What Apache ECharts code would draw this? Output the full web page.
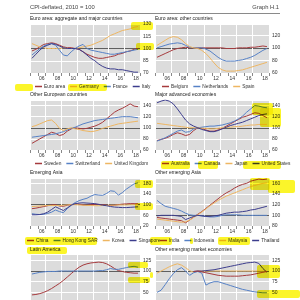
<!DOCTYPE html>
<html><head><meta charset="utf-8">
<script src="https://cdn.jsdelivr.net/npm/echarts@6/dist/echarts.min.js"></script>
<style>html,body{margin:0;padding:0;background:#fff}#c{width:300px;height:300px}</style>
</head><body><div id="c"></div>
<script>
// x positions (years) of the observations
const years = [2005.25, 2005.75, 2006.25, 2006.75, 2007.25, 2007.75, 2008.25, 2008.75, 2009.25, 2009.75,
  2010.25, 2010.75, 2011.25, 2011.75, 2012.25, 2012.75, 2013.25, 2013.75, 2014.25, 2014.75,
  2015.25, 2015.75, 2016.25, 2016.75, 2017.25, 2017.75, 2018.25, 2018.75];
const xLabelYears = [2006, 2008, 2010, 2012, 2014, 2016, 2018];

// Euro area: aggregate and major countries
const euroArea = [97, 99, 102, 105, 106, 107, 106, 104, 102, 101, 101, 100, 99, 96, 93, 91, 89, 88, 88, 89, 90, 91, 93, 94, 96, 97, 99, 100];
const germany = [106, 104, 102, 101, 100, 100, 100, 100, 101, 100, 100, 100, 101, 102, 103, 104, 106, 108, 110, 113, 116, 118, 120, 122, 123, 124, 126, 127];
const france = [92, 96, 100, 103, 105, 106, 104, 98, 92, 91, 96, 100, 103, 105, 100, 98, 97, 96, 95, 94, 93, 93, 94, 95, 96, 97, 98, 99];
const italy = [88, 93, 98, 102, 104, 106, 105, 103, 101, 100, 100, 100, 99, 96, 92, 88, 85, 81, 78, 76, 75, 75, 74, 74, 73, 72, 71, 71];
// Euro area: other countries
const belgium = [85, 88, 91, 94, 97, 99, 100, 101, 100, 100, 100, 100, 100, 100, 100, 100, 100, 99, 99, 99, 100, 100, 100, 101, 101, 102, 103, 102];
const netherlands = [100, 102, 104, 106, 107, 108, 107, 104, 101, 100, 100, 100, 98, 95, 90, 85, 81, 79, 79, 79, 80, 81, 83, 85, 88, 92, 96, 99];
const spain = [104, 108, 112, 116, 118, 117, 113, 107, 102, 100, 99, 96, 91, 84, 76, 69, 65, 63, 63, 63, 64, 65, 67, 69, 71, 73, 75, 77];
// Other European countries
const sweden = [72, 76, 80, 84, 88, 92, 90, 86, 88, 94, 98, 100, 99, 98, 99, 101, 103, 106, 110, 116, 122, 128, 132, 135, 139, 143, 139, 138];
const switzerland = [83, 84, 85, 86, 87, 88, 89, 91, 93, 96, 99, 101, 104, 107, 109, 111, 113, 114, 115, 116, 117, 118, 119, 120, 120, 120, 119, 118];
const unitedKingdom = [102, 104, 107, 110, 113, 114, 108, 99, 95, 98, 100, 98, 97, 95, 94, 93, 94, 96, 99, 101, 103, 105, 107, 108, 109, 110, 111, 112];
// Major advanced economies
const australia = [77, 79, 81, 84, 88, 91, 89, 86, 88, 95, 100, 99, 96, 94, 94, 96, 99, 103, 107, 111, 115, 119, 121, 124, 127, 126, 122, 118];
const canada = [76, 79, 82, 86, 90, 94, 96, 92, 93, 98, 100, 101, 102, 103, 103, 104, 105, 107, 109, 112, 116, 121, 128, 134, 140, 139, 137, 136];
const japan = [108, 107, 106, 105, 104, 103, 102, 101, 100, 100, 100, 99, 99, 98, 98, 99, 100, 101, 101, 102, 102, 103, 104, 105, 105, 106, 106, 106];
const unitedStates = [145, 148, 150, 148, 143, 134, 124, 114, 107, 103, 100, 97, 95, 93, 93, 95, 98, 101, 104, 106, 108, 110, 113, 116, 119, 122, 124, 125];
// Emerging Asia
const china = [85, 87, 90, 93, 96, 99, 100, 95, 94, 98, 100, 103, 102, 99, 98, 100, 101, 101, 100, 98, 97, 98, 100, 102, 103, 104, 104, 103];
const hongKong = [66, 64, 63, 64, 67, 72, 80, 74, 70, 85, 98, 108, 115, 120, 124, 132, 138, 136, 135, 142, 152, 150, 136, 145, 158, 168, 178, 182];
const korea = [93, 94, 95, 96, 97, 97, 97, 97, 98, 99, 100, 100, 99, 98, 97, 97, 96, 96, 97, 97, 98, 98, 99, 99, 99, 100, 100, 100];
const singapore = [62, 62, 63, 66, 72, 82, 92, 85, 78, 88, 98, 104, 106, 107, 106, 105, 104, 101, 98, 96, 93, 91, 90, 89, 89, 90, 91, 92];
// Other emerging Asia
const india = [96, 95, 94, 93, 92, 91, 90, 86, 91, 97, 102, 107, 113, 119, 125, 131, 137, 142, 146, 151, 155, 158, 160, 164, 166, 168, 167, 168];
const indonesia = [128, 122, 117, 115, 113, 111, 108, 104, 101, 100, 100, 99, 98, 97, 97, 98, 100, 101, 101, 101, 101, 100, 100, 100, 100, 100, 100, 100];
const malaysia = [93, 92, 91, 90, 89, 88, 87, 88, 91, 96, 101, 106, 112, 118, 123, 128, 132, 136, 139, 142, 145, 148, 151, 154, 156, 158, 160, 161];
const thailand = [99, 100, 100, 100, 100, 99, 98, 92, 95, 98, 100, 99, 98, 98, 99, 100, 102, 104, 105, 106, 106, 107, 108, 110, 111, 113, 115, 117];
// Latin America (legend below the visible area)
const latAm1 = [44, 45, 47, 50, 54, 59, 65, 71, 78, 86, 94, 102, 109, 114, 117, 119, 120, 121, 120, 117, 112, 106, 101, 99, 97, 96, 95, 95];
const latAm2 = [93, 95, 97, 98, 99, 99, 99, 100, 100, 100, 100, 100, 100, 100, 100, 100, 100, 101, 101, 103, 106, 104, 104, 106, 108, 110, 111, 109];
// Other emerging market economies (legend below the visible area)
const eme1 = [95, 100, 105, 110, 114, 117, 114, 108, 101, 97, 100, 100, 100, 100, 100, 100, 100, 100, 100, 100, 100, 100, 100, 100, 100, 100, 100, 100];
const eme2 = [50, 55, 68, 82, 94, 103, 108, 100, 90, 96, 99, 95, 67, 72, 75, 75, 72, 69, 66, 63, 60, 57, 55, 53, 51, 50, 49, 49];
const eme3 = [null, null, null, null, null, null, null, null, null, 99, 100, 100, 101, 102, 103, 105, 107, 109, 111, 113, 115, 117, 119, 120, 121, 118, 106, 97];
const eme4 = [null, null, null, null, null, null, null, null, null, 99, 100, 98, 96, 94, 92, 90, 89, 88, 88, 88, 88, 89, 90, 91, 93, 95, 97, 99];

const COLORS = { red: '#a63a3d', blue: '#5681c6', tan: '#eeb662', navy: '#3c3d8d' };
const FONT = 'Liberation Sans';
const BASE = 100;

const rows = [{ top: 24, h: 49, t: 19, lg: 84 }, { top: 100, h: 50, t: 95, lg: 161 }, { top: 178, h: 48, t: 173, lg: 238 }, { top: 254, h: 49, t: 250, lg: null }];
const cols = [{ left: 30, w: 110 }, { left: 155, w: 114 }];

const panels = [
  { title: 'Euro area: aggregate and major countries', r: 0, c: 0, y: [70, 130, 15], lgLeft: 35, legend: true,
    s: [['Euro area', euroArea, 'red'], ['Germany', germany, 'tan'], ['France', france, 'blue'], ['Italy', italy, 'navy']] },
  { title: 'Euro area: other countries', r: 0, c: 1, y: [60, 138, 20], lgLeft: 162, legend: true,
    s: [['Belgium', belgium, 'red'], ['Netherlands', netherlands, 'blue'], ['Spain', spain, 'tan']] },
  { title: 'Other European countries', r: 1, c: 0, y: [60, 150, 20], lgLeft: 35, legend: true,
    s: [['Sweden', sweden, 'red'], ['Switzerland', switzerland, 'blue'], ['United Kingdom', unitedKingdom, 'tan']] },
  { title: 'Major advanced economies', r: 1, c: 1, y: [60, 150, 20], lgLeft: 162, legend: true,
    s: [['Australia', australia, 'red'], ['Canada', canada, 'blue'], ['Japan', japan, 'tan'], ['United States', unitedStates, 'navy']] },
  { title: 'Emerging Asia', r: 2, c: 0, y: [20, 200, 40], lgLeft: 27, legend: true,
    s: [['China', china, 'red'], ['Hong Kong SAR', hongKong, 'blue'], ['Korea', korea, 'tan'], ['Singapore', singapore, 'navy']] },
  { title: 'Other emerging Asia', r: 2, c: 1, y: [80, 170, 20], lgLeft: 160, legend: true,
    s: [['India', india, 'red'], ['Indonesia', indonesia, 'blue'], ['Malaysia', malaysia, 'tan'], ['Thailand', thailand, 'navy']] },
  { title: 'Latin America', r: 3, c: 0, y: [25, 140, 25], legend: false,
    s: [['Latin America 1', latAm1, 'red'], ['Latin America 2', latAm2, 'blue']] },
  { title: 'Other emerging market economies', r: 3, c: 1, y: [25, 140, 25], legend: false,
    s: [['Other EME 1', eme1, 'tan'], ['Other EME 2', eme2, 'blue'], ['Other EME 3', eme3, 'navy'], ['Other EME 4', eme4, 'red']] }
];

// highlighter marks present on the reference picture
const highlights = [
  [15, 84, 18, 7], [68, 84, 39, 7], [131, 22, 22, 8], [136, 43, 18, 7],
  [252, 103, 21, 12], [260, 108, 21, 19],
  [161, 161, 29, 8], [198, 161, 20, 8], [243, 161, 38, 8],
  [135, 180, 18, 8], [135, 203, 18, 7],
  [25, 237, 72, 8], [27, 247, 40, 7],
  [250, 178, 20, 12], [268, 180, 27, 13],
  [150, 237, 22, 8], [190, 238, 3, 6], [218, 237, 32, 8],
  [128, 262, 20, 6], [128, 277, 22, 6], [150, 272, 3, 6],
  [257, 265, 23, 13], [257, 290, 43, 8]
];

const grid = [], xAxis = [], yAxis = [], series = [], legend = [], graphic = [];

graphic.push({ type: 'text', left: 30, top: 4, style: { text: 'CPI-deflated, 2010 = 100', font: '5.8px ' + FONT, fill: '#444' } });
graphic.push({ type: 'text', right: 21, top: 4, style: { text: 'Graph H.1', font: '5.8px ' + FONT, fill: '#444' } });
graphic.push({ type: 'line', shape: { x1: 30, y1: 13.5, x2: 280, y2: 13.5 }, style: { stroke: '#8a8a8a', lineWidth: 1 } });

panels.forEach((p, i) => {
  const R = rows[p.r], C = cols[p.c];
  grid.push({ left: C.left, top: R.top, width: C.w, height: R.h, show: true, backgroundColor: '#dcdcdc', borderWidth: 0, containLabel: false, outerBoundsMode: 'none' });
  const common = { type: 'value', gridIndex: i, min: 2005, max: 2019, position: 'bottom', axisLine: { show: false, onZero: false } };
  xAxis.push(Object.assign({}, common, { interval: 2, axisTick: { show: false }, axisLabel: { show: false }, splitLine: { show: true, lineStyle: { color: '#ffffff', width: 1 } } }));
  xAxis.push(Object.assign({}, common, { interval: 1, axisTick: { show: true, length: 3, lineStyle: { color: '#6a6a6a', width: 0.8 } }, axisLabel: { show: false }, splitLine: { show: false } }));
  xAxis.push(Object.assign({}, common, { interval: 0.5, axisTick: { show: false }, splitLine: { show: false },
    axisLabel: { show: true, fontSize: 5, fontFamily: FONT, color: '#333', margin: 3,
      formatter: v => { const f = Math.floor(v); return (Math.abs(v - f - 0.5) < 1e-6 && xLabelYears.indexOf(f) >= 0) ? String(f % 100).padStart(2, '0') : ''; } } }));
  const [mn, mx, iv] = p.y;
  const lineColors = [];
  for (let k = 0; k < 12; k++) lineColors.push(Math.abs(mn + k * iv - BASE) < 1e-6 ? '#5f5f5f' : '#ffffff');
  yAxis.push({ type: 'value', gridIndex: i, position: 'right', min: mn, max: mx, interval: iv,
    axisLine: { show: false }, axisTick: { show: false },
    axisLabel: { fontSize: 5, fontFamily: FONT, color: '#333', margin: 3, showMaxLabel: ((mx - mn) % iv === 0) },
    splitLine: { show: true, lineStyle: { color: lineColors, width: 1 } } });
  p.s.forEach(([name, vals, col]) => {
    series.push({ type: 'line', name, xAxisIndex: i * 3, yAxisIndex: i, showSymbol: false, symbol: 'none',
      data: years.map((x, k) => [x, vals[k]]), connectNulls: false,
      lineStyle: { color: COLORS[col], width: 1 }, itemStyle: { color: COLORS[col] }, silent: true, animation: false });
  });
  if (p.legend) {
    legend.push({ data: p.s.map(s => s[0]), left: p.lgLeft, top: R.lg, width: 290, itemWidth: 7, itemHeight: 1.5, itemGap: 5, icon: 'rect', padding: 0,
      selectedMode: false, textStyle: { fontSize: 4.8, fontFamily: FONT, color: '#333', padding: [0, 0, 0, -3] } });
  }
  graphic.push({ type: 'text', left: C.left, top: R.t - 3, style: { text: p.title, font: '5px ' + FONT, fill: '#222' } });
});

highlights.forEach(([x, y, w, h]) => {
  graphic.push({ type: 'rect', z: 100, shape: { x, y, width: w, height: h, r: 2 }, style: { fill: '#fbf52a', blend: 'multiply' } });
});

const chart = echarts.init(document.getElementById('c'), null, { renderer: 'canvas' });
chart.setOption({ animation: false, textStyle: { fontFamily: FONT }, grid, xAxis, yAxis, series, legend, graphic });
</script></body></html>
